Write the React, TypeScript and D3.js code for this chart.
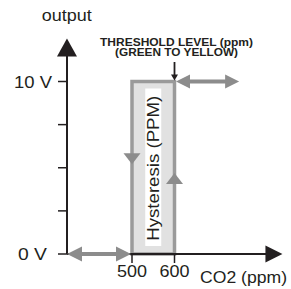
import React from "react";
import * as d3 from "d3";

const xTicks = [500, 600];
const xTickLabels = ["500", "600"];
const yTicks = [0, 2.5, 5, 7.5, 10];
const yTickLabels = ["0 V", "", "", "", "10 V"];
const hysteresisBand = [500, 600];
const outputLevels = [0, 10];
const xAxisExtent = [347, 854];
const yAxisExtent = [0, 12.5];
const thresholdArrowEnd = 752;
const fallArrowAt = 5.2;
const riseArrowAt = 4.7;

const FONT = "'Liberation Sans', Arial, Helvetica, sans-serif";
const INK = "#231f20";
const GREY = "#8c8c8c";

type Dir = "up" | "down" | "left" | "right";
function head(tx: number, ty: number, dir: Dir, len: number, half: number) {
  let pts: [number, number][] = [];
  if (dir === "up") pts = [[tx, ty], [tx - half, ty + len], [tx + half, ty + len]];
  if (dir === "down") pts = [[tx, ty], [tx - half, ty - len], [tx + half, ty - len]];
  if (dir === "left") pts = [[tx, ty], [tx + len, ty - half], [tx + len, ty + half]];
  if (dir === "right") pts = [[tx, ty], [tx - len, ty - half], [tx - len, ty + half]];
  return pts.map((p) => p.join(",")).join(" ");
}

export default function App() {
  const xs = d3.scaleLinear().domain([500, 600]).range([132, 174.5]);
  const ys = d3.scaleLinear().domain([0, 10]).range([254, 81.5]);

  const x0 = xs(xAxisExtent[0]);
  const x1 = xs(xAxisExtent[1]);
  const y0 = ys(yAxisExtent[0]);
  const y1 = ys(yAxisExtent[1]);

  const bL = xs(hysteresisBand[0]);
  const bR = xs(hysteresisBand[1]);
  const bT = ys(outputLevels[1]);
  const bB = ys(outputLevels[0]);
  const bC = (bL + bR) / 2;

  return (
    <svg
      width={291}
      height={289}
      style={{ position: "absolute", left: 0, top: 0, background: "#fff" }}
      fontFamily={FONT}
    >
      {/* hysteresis band */}
      <rect x={bL} y={bT} width={bR - bL} height={bB - bT} fill="#e1e1e1" stroke="#9a9a9a" strokeWidth={3.5} />
      <rect x={bC - 8} y={bT + 7} width={16} height={bB - bT - 15} fill="#fff" />
      <text
        transform={`translate(${bC + 5.5},${(bT + bB) / 2 + 0.5}) rotate(-90)`}
        textAnchor="middle"
        fontSize={16}
        fill={INK}
        textLength={145}
        lengthAdjust="spacingAndGlyphs"
      >
        Hysteresis (PPM)
      </text>
      <polygon points={head(bL, ys(fallArrowAt), "down", 11, 8.5)} fill={GREY} />
      <polygon points={head(bR, ys(riseArrowAt), "up", 11, 8.5)} fill={GREY} />

      {/* axes */}
      <line x1={x0} y1={y0} x2={x0} y2={y1 + 16} stroke={INK} strokeWidth={2} />
      <polygon points={head(x0, y1, "up", 18, 10)} fill={INK} />
      <line x1={x0} y1={y0} x2={x1 - 16} y2={y0} stroke={INK} strokeWidth={2.2} />
      <polygon points={head(x1, y0, "right", 17, 8.5)} fill={INK} />

      {yTicks.map((t, i) => (
        <g key={`yt${i}`}>
          <line x1={x0 - 9} x2={x0} y1={ys(t)} y2={ys(t)} stroke={INK} strokeWidth={1.5} />
        </g>
      ))}
      <text x={14} y={87.7} fontSize={17} fill={INK} textLength={38} lengthAdjust="spacingAndGlyphs">
        {yTickLabels[4]}
      </text>
      <text x={18} y={260} fontSize={17} fill={INK} textLength={29} lengthAdjust="spacingAndGlyphs">
        {yTickLabels[0]}
      </text>

      {xTicks.map((t, i) => (
        <g key={`xt${i}`}>
          <line x1={xs(t)} x2={xs(t)} y1={y0} y2={y0 + 9} stroke={INK} strokeWidth={1.5} />
          <text
            x={xs(t)}
            y={276.7}
            textAnchor="middle"
            fontSize={16.5}
            fill={INK}
            textLength={30}
            lengthAdjust="spacingAndGlyphs"
          >
            {xTickLabels[i]}
          </text>
        </g>
      ))}

      {/* gray double arrows */}
      <line x1={x0 + 8} x2={bL - 8} y1={y0} y2={y0} stroke={GREY} strokeWidth={4} />
      <polygon points={head(x0, y0, "left", 15, 7.5)} fill={GREY} />
      <polygon points={head(bL - 1, y0, "right", 15, 7.5)} fill={GREY} />

      <line x1={bR + 8} x2={xs(thresholdArrowEnd) - 8} y1={bT} y2={bT} stroke={GREY} strokeWidth={4} />
      <polygon points={head(bR + 1.5, bT, "left", 14, 7)} fill={GREY} />
      <polygon points={head(xs(thresholdArrowEnd), bT, "right", 14, 7)} fill={GREY} />

      {/* threshold annotation */}
      <line x1={bR} x2={bR} y1={62} y2={bT - 5} stroke={INK} strokeWidth={1.8} />
      <polygon points={head(bR, bT - 1, "down", 6, 3.5)} fill={INK} />
      <text x={176.5} y={45.5} textAnchor="middle" fontSize={10.5} fontWeight="bold" fill={INK} textLength={153} lengthAdjust="spacingAndGlyphs">
        THRESHOLD LEVEL (ppm)
      </text>
      <text x={176.5} y={56} textAnchor="middle" fontSize={10.5} fontWeight="bold" fill={INK} textLength={123} lengthAdjust="spacingAndGlyphs">
        (GREEN TO YELLOW)
      </text>

      {/* axis titles */}
      <text x={41.7} y={20.5} fontSize={17} fill={INK} textLength={50} lengthAdjust="spacingAndGlyphs">
        output
      </text>
      <text x={200} y={283} fontSize={17} fill={INK} textLength={87} lengthAdjust="spacingAndGlyphs">
        CO2 (ppm)
      </text>
    </svg>
  );
}
